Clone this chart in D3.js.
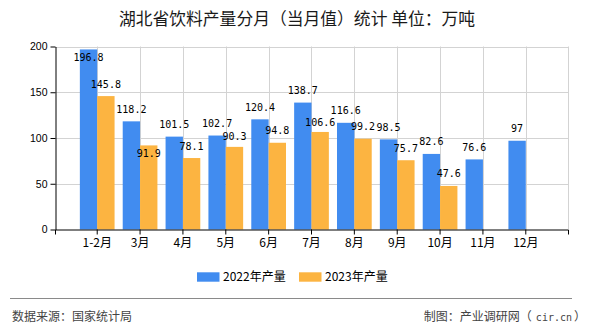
<!DOCTYPE html>
<html>
<head>
<meta charset="utf-8">
<script src="https://cdn.jsdelivr.net/npm/d3@7"></script>
<style>
  html, body { margin: 0; padding: 0; background: #fff; }
  svg { display: block; }
</style>
</head>
<body>
<div id="chart"></div>
<script>
// ---- data ----
const categories = ["1-2月", "3月", "4月", "5月", "6月", "7月", "8月", "9月", "10月", "11月", "12月"];
const values2022 = [196.8, 118.2, 101.5, 102.7, 120.4, 138.7, 116.6, 98.5, 82.6, 76.6, 97];
const values2023 = [145.8, 91.9, 78.1, 90.3, 94.8, 106.6, 99.2, 75.7, 47.6, null, null];
const seriesNames = ["2022年产量", "2023年产量"];
const yTicks = [0, 50, 100, 150, 200];
const titleText = "湖北省饮料产量分月（当月值）统计 单位：万吨";
const sourceText = "数据来源：国家统计局";
const creditParts = ["制图：产业调研网（", "cir.cn", "）"];

// ---- style / layout ----
const W = 590, H = 330;
const colors = ["#418CF0", "#FCB441"];
const plot = { left: 55, right: 568, top: 46.5, bottom: 229.5 };
const cjk = "'Noto Sans CJK SC', 'Noto Sans', sans-serif";
const labelFont = "'DejaVu Sans Mono', 'Liberation Mono', monospace";
// label placement tweaks (smart-label style of the original)
const labelAdjust = { "1|3月": "below", "1|5月": 1.5, "1|7月": 2.5 };

const svg = d3.select("#chart").append("svg")
  .attr("width", W).attr("height", H);

// title
svg.append("text")
  .attr("x", 297).attr("y", 25)
  .attr("text-anchor", "middle")
  .style("font-family", cjk).style("font-size", "16.8px")
  .attr("fill", "#1a1a1a")
  .text(titleText);

const x = d3.scaleBand()
  .domain(categories)
  .range([plot.left, plot.right])
  .paddingInner(0.19)
  .paddingOuter(0.58);

const xs = d3.scaleBand()
  .domain(d3.range(seriesNames.length))
  .range([0, x.bandwidth()]);

const y = d3.scaleLinear().domain([0, 200]).range([plot.bottom, plot.top]);

// grid
const grid = svg.append("g").attr("stroke", "#d3d3d3").attr("stroke-width", 1);
grid.selectAll("line.h").data(yTicks.filter(d => d > 0)).enter().append("line")
  .attr("x1", plot.left).attr("x2", plot.right)
  .attr("y1", d => Math.round(y(d)) + 0.5).attr("y2", d => Math.round(y(d)) + 0.5);
grid.selectAll("line.v").data(categories).enter().append("line")
  .attr("x1", d => Math.round(x(d) + x.bandwidth() / 2) + 0.5)
  .attr("x2", d => Math.round(x(d) + x.bandwidth() / 2) + 0.5)
  .attr("y1", plot.top).attr("y2", plot.bottom);
grid.append("line")
  .attr("x1", plot.right + 0.5).attr("x2", plot.right + 0.5)
  .attr("y1", plot.top).attr("y2", plot.bottom);

// bars
const series = [values2022, values2023];
const barData = [];
series.forEach((vals, si) => {
  vals.forEach((v, ci) => {
    if (v !== null && v !== undefined) barData.push({ si, cat: categories[ci], v });
  });
});

svg.append("g").selectAll("rect").data(barData).enter().append("rect")
  .attr("x", d => x(d.cat) + xs(d.si))
  .attr("width", xs.bandwidth())
  .attr("y", d => y(d.v))
  .attr("height", d => y(0) - y(d.v))
  .attr("fill", d => colors[d.si]);

// axes
const yAxis = svg.append("g")
  .attr("transform", `translate(${plot.left + 0.5},0)`)
  .call(d3.axisLeft(y).tickValues(yTicks).tickSize(5).tickSizeOuter(0).tickPadding(3));
yAxis.select(".domain").attr("stroke", "#000");
yAxis.selectAll(".tick line").attr("stroke", "#000");
yAxis.selectAll("text")
  .style("font-family", "'Liberation Sans', Arial, sans-serif")
  .style("font-size", "10.5px").attr("fill", "#000");

const xAxis = svg.append("g")
  .attr("transform", `translate(0,${plot.bottom})`)
  .call(d3.axisBottom(x).tickSize(5).tickSizeOuter(5).tickPadding(4));
xAxis.select(".domain").attr("stroke", "#000");
xAxis.selectAll(".tick line").attr("stroke", "#000");
xAxis.selectAll("text")
  .style("font-family", cjk).style("font-size", "12px").attr("fill", "#000");

// value labels
svg.append("g").selectAll("text").data(barData).enter().append("text")
  .attr("x", d => x(d.cat) + xs(d.si) + xs.bandwidth() / 2)
  .attr("y", d => {
    const adj = labelAdjust[d.si + "|" + d.cat];
    let base = y(d.v) - 8.5;
    if (adj === "below" || base - 8 < plot.top) return y(d.v) + 11.5;
    if (typeof adj === "number") base += adj;
    return base;
  })
  .attr("text-anchor", "middle")
  .style("font-family", labelFont).style("font-size", "10px")
  .attr("fill", "#000")
  .text(d => String(d.v));

// legend
const legend = svg.append("g");
const legendX = [197, 299];
seriesNames.forEach((name, i) => {
  legend.append("rect")
    .attr("x", legendX[i]).attr("y", 272.3)
    .attr("width", 22.5).attr("height", 9.4)
    .attr("fill", colors[i]);
  legend.append("text")
    .attr("x", legendX[i] + 26).attr("y", 281)
    .style("font-family", cjk).style("font-size", "12px")
    .attr("fill", "#000")
    .text(name);
});

// footer
svg.append("line")
  .attr("x1", 10).attr("x2", 572)
  .attr("y1", 298.5).attr("y2", 298.5)
  .attr("stroke", "#8a8a8a").attr("stroke-width", 1.2);
svg.append("text")
  .attr("x", 12).attr("y", 321)
  .style("font-family", cjk).style("font-size", "12px")
  .attr("fill", "#444")
  .text(sourceText);
const credit = svg.append("text")
  .attr("x", 586).attr("y", 321)
  .attr("text-anchor", "end")
  .style("font-family", cjk).style("font-size", "12px")
  .attr("fill", "#444");
credit.append("tspan").text(creditParts[0]);
credit.append("tspan").attr("dx", 4)
  .style("font-family", labelFont).style("font-size", "10px")
  .text(creditParts[1]);
credit.append("tspan").attr("dx", 2).text(creditParts[2]);
</script>
</body>
</html>
